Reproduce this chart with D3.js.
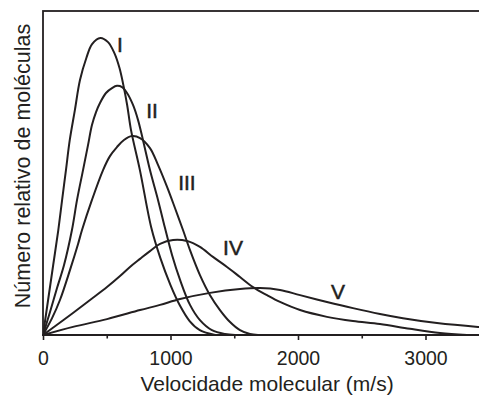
<!DOCTYPE html>
<html lang="pt">
<head>
<meta charset="utf-8">
<title>Distribuição de velocidades moleculares</title>
<script src="https://d3js.org/d3.v7.min.js"></script>
<style>
  body { margin: 0; background: #fff; }
  text { font-family: "Liberation Sans", Arial, sans-serif; fill: #231f20; }
</style>
</head>
<body>
<div id="chart"></div>
<script>
// velocidade (m/s), número relativo (0-100)
const curveI = [[0,0],[40,10.8],[80,21.6],[120,32.4],[150,41.7],[180,50.9],[210,60.2],[250,69.4],[290,78.7],[340,85.5],[385,89.8],[450,91.7],[510,90.4],[560,87.0],[600,82.4],[630,77.2],[660,71.0],[690,63.3],[760,50.9],[850,33.0],[920,23.8],[1000,15.4],[1075,9.0],[1150,4.3],[1230,1.5],[1350,0]]
const curveII = [[0,0],[55,7.1],[110,14.5],[165,21.6],[227,32.4],[267,41.7],[314,50.9],[353,58.6],[384,64.8],[416,68.8],[447,71.6],[494,74.7],[541,76.2],[580,76.9],[620,76.5],[659,74.7],[706,71.0],[745,66.4],[784,60.2],[839,50.9],[902,41.7],[957,33.0],[1012,24.7],[1075,17.0],[1153,9.3],[1231,4.6],[1325,1.5],[1427,0.3],[1506,0]]
const curveIII = [[0,0],[71,5.2],[133,10.8],[212,20.1],[275,28.1],[306,32.4],[384,41.7],[471,50.9],[525,55.2],[580,58.0],[635,60.2],[698,61.4],[761,60.8],[839,57.7],[902,52.5],[973,45.7],[1035,39.2],[1098,32.4],[1153,26.2],[1231,18.5],[1310,12.3],[1388,7.7],[1467,4.0],[1545,1.5],[1623,0.3],[1686,0]]
const curveIV = [[0,0],[118,3.4],[235,6.8],[369,10.8],[502,14.8],[604,18.2],[682,21.0],[761,23.5],[839,25.9],[918,28.1],[1020,29.3],[1129,29.0],[1231,27.2],[1333,24.1],[1443,21.0],[1545,17.9],[1647,14.8],[1757,12.3],[1859,10.2],[2016,7.7],[2227,5.6],[2431,4.3],[2643,3.4],[2878,1.9],[3114,0.6],[3325,0]]
const curveV = [[0,0],[235,2.5],[502,4.9],[761,7.7],[918,9.3],[1075,11.1],[1310,13.0],[1545,14.2],[1702,14.5],[1859,13.9],[2016,12.3],[2227,10.2],[2431,8.3],[2643,6.5],[2823,5.2],[3090,3.7],[3412,2.5],[3450,2.4]]

const curveNames = ["I", "II", "III", "IV", "V"]
const labelSpots = [[604,89.8],[855,69.4],[1129,47.2],[1490,26.9],[2314,13.3]]

const majorTicks = [0, 1000, 2000, 3000]
const minorTicks = [500, 1500, 2500]

const width = 479
const height = 396
const ink = "#231f20"

const svg = d3.select("#chart")
  .append("svg")
    .attr("width", width)
    .attr("height", height)

const x = d3.scaleLinear()
  .domain([0, 3450])
  .range([43, 43 + 3450 * 0.1275])

const y = d3.scaleLinear()
  .domain([0, 100])
  .range([335, 11])

// frame (top and left), right side runs off the picture
svg.append("rect")
  .attr("x", x(0))
  .attr("y", y(100))
  .attr("width", x(3450) - x(0) + 10)
  .attr("height", y(0) - y(100))
  .attr("fill", "none")
  .attr("stroke", ink)
  .attr("stroke-width", 1.8)

// bottom axis
const axisMajor = d3.axisBottom(x)
  .tickValues(majorTicks)
  .tickSize(5)
  .tickPadding(11)
  .tickFormat(d3.format("d"))

const gx = svg.append("g")
  .attr("transform", `translate(0,${y(0)})`)
  .call(axisMajor)

gx.select(".domain").remove()
gx.selectAll("line").attr("stroke", ink).attr("stroke-width", 1.6)
gx.selectAll("text")
  .style("font-family", '"Liberation Sans", Arial, sans-serif')
  .style("font-size", "19.5px")
  .attr("fill", ink)

const gxMinor = svg.append("g")
  .attr("transform", `translate(0,${y(0)})`)
  .call(d3.axisBottom(x).tickValues(minorTicks).tickSize(3.5).tickFormat(""))
gxMinor.select(".domain").remove()
gxMinor.selectAll("line").attr("stroke", ink).attr("stroke-width", 1.6)

svg.append("line")
  .attr("x1", x(0) - 1)
  .attr("x2", width + 5)
  .attr("y1", y(0))
  .attr("y2", y(0))
  .attr("stroke", ink)
  .attr("stroke-width", 1.8)

// axis titles
svg.append("text")
  .attr("x", (x(0) + x(3420)) / 2 + 6)
  .attr("y", 391)
  .attr("text-anchor", "middle")
  .style("font-size", "21px")
  .text("Velocidade molecular (m/s)")

svg.append("text")
  .attr("transform", `translate(30,${(y(0) + y(100)) / 2 - 7}) rotate(-90)`)
  .attr("text-anchor", "middle")
  .style("font-size", "21.5px")
  .text("Número relativo de moléculas")

// curves
const line = d3.line()
  .x(d => x(d[0]))
  .y(d => y(d[1]))
  .curve(d3.curveCatmullRom.alpha(0.5))

const clip = svg.append("clipPath").attr("id", "plot")
clip.append("rect")
  .attr("x", x(0)).attr("y", y(100))
  .attr("width", width).attr("height", y(0) - y(100))

svg.append("g")
  .attr("clip-path", "url(#plot)")
  .selectAll("path")
  .data([curveI, curveII, curveIII, curveIV, curveV])
  .join("path")
    .attr("d", line)
    .attr("fill", "none")
    .attr("stroke", ink)
    .attr("stroke-width", 2)

svg.append("g")
  .selectAll("text")
  .data(curveNames)
  .join("text")
    .attr("x", (d, i) => x(labelSpots[i][0]))
    .attr("y", (d, i) => y(labelSpots[i][1]))
    .attr("text-anchor", "middle")
    .attr("dominant-baseline", "central")
    .attr("stroke", ink)
    .attr("stroke-width", 0.5)
    .style("font-size", "21px")
    .text(d => d)
</script>
</body>
</html>
